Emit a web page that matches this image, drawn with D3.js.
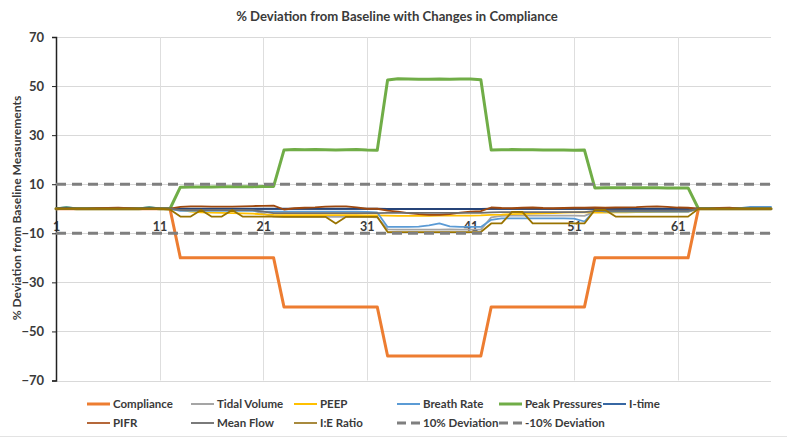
<!DOCTYPE html>
<html><head><meta charset="utf-8">
<script src="https://cdn.jsdelivr.net/npm/d3@7"></script>
<style>
body{margin:0;background:#fff}
svg{display:block}
text{font-family:Lato,"Open Sans",sans-serif;font-weight:700;fill:#3a3a3a}
</style>
</head><body>
<svg id="c" width="787" height="437"></svg>
<script>
const categories = d3.range(1, 71);
const xTickLabels = [1, 11, 21, 31, 41, 51, 61];
const yTickLabels = [-70, -50, -30, -10, 10, 30, 50, 70];
const thresholds = [10, -10];

const compliance = [
 0,0,0,0,0,0,0,0,0,0,
 0,0,-20,-20,-20,-20,-20,-20,-20,-20,
 -20,-20,-40,-40,-40,-40,-40,-40,-40,-40,
 -40,-40,-60,-60,-60,-60,-60,-60,-60,-60,
 -60,-60,-40,-40,-40,-40,-40,-40,-40,-40,
 -40,-40,-20,-20,-20,-20,-20,-20,-20,-20,
 -20,-20,0,0,0,0,0,0,0,0];
const tidalVolume = [
 0,0,0,0,0,0,0,0,0,0,
 0,0,-0.3,-0.5,-0.5,-0.5,-0.6,-0.6,-0.6,-0.7,
 -2.0,-3.2,-3.3,-3.3,-3.3,-3.3,-3.3,-3.3,-3.3,-3.3,
 -3.3,-3.5,-8.4,-8.5,-8.5,-8.5,-8.5,-8.5,-8.4,-8.5,
 -8.5,-8.5,-3.5,-2.9,-2.8,-2.8,-2.8,-2.8,-2.8,-2.8,
 -2.8,-2.9,-1.2,-1.2,-1.2,-1.2,-1.2,-1.2,-1.2,-1.2,
 -1.2,-1.2,0,0,0,0,0,0,0,0];
const peep = [
 0,0,0,0,0,0,0,0,0,0,
 0,0,-0.5,-1.2,-1.5,-1.6,-1.7,-1.8,-1.9,-2.0,
 -2.3,-2.5,-2.6,-2.6,-2.6,-2.6,-2.6,-2.6,-2.6,-2.6,
 -2.7,-2.7,-2.8,-2.9,-2.9,-2.9,-2.9,-2.8,-2.8,-2.8,
 -2.8,-2.7,-2.5,-2.4,-2.2,-2.1,-2.0,-1.9,-1.8,-1.6,
 -1.5,-1.4,-1.6,-1.6,-1.5,-1.5,-1.4,-1.4,-1.3,-1.3,
 -1.2,-1.2,0,0,0,0,0,0,0,0];
const breathRate = [
 0,0.8,0,0,0,0,0,0,0,0.8,
 0,0,-0.9,-0.9,-0.9,-0.9,-0.9,-0.9,-0.9,-0.9,
 -1.1,-1.2,-1.2,-1.2,-1.2,-1.2,-1.2,-1.2,-1.2,-1.2,
 -1.3,-1.5,-7.4,-7.4,-7.4,-7.3,-6.8,-6.0,-7.2,-7.4,
 -7.4,-7.4,-4.5,-3.9,-3.9,-3.9,-3.9,-3.9,-3.9,-3.9,
 -4.0,-5.2,-0.5,-1.2,-1.2,-1.2,-1.2,-1.2,-1.2,-1.2,
 -1.2,-1.2,0,0.2,0,0,0.2,0.8,0.8,0.8];
const peakPressures = [
 0,0.3,0,0,0,0,0,0,0,0.3,
 0,0,8.8,8.9,8.9,8.9,9.0,9.0,9.0,9.0,
 9.1,9.1,23.9,24.1,24.0,24.1,24.0,23.9,24.0,24.1,
 23.9,23.8,52.5,53.0,52.9,52.8,52.8,52.9,52.8,52.9,
 52.9,52.6,23.9,24.0,24.1,24.0,24.0,23.9,23.9,23.9,
 23.8,23.9,8.5,8.6,8.6,8.6,8.6,8.6,8.6,8.5,
 8.5,8.5,0,0,0,0,0,0,0,0];
const iTime = [
 0,0.2,0,0,0,0,0,0,0,0.2,
 0,0,0,0,0,0,0,0,0,0,
 0,0,0,0,0,0,0,0,0,0,
 0,0,-0.1,-0.1,-0.1,-0.1,-0.1,-0.1,-0.1,-0.1,
 -0.1,-0.1,0,0,0,0,0,0,0,0,
 0,0,0,0,0,0,0,0,0,0,
 0,0,0,0,0,0,0,0,0,0];
const pifr = [
 0,0,0,0,0.2,0.3,0.4,0.2,0,0,
 0,0,0.8,1.0,1.0,0.9,0.9,0.9,1.0,1.1,
 1.2,1.3,-0.3,0.2,0.4,0.6,0.9,1.0,1.0,0.6,
 0,0,-0.8,-1.2,-1.8,-2.2,-2.5,-2.5,-2.2,-1.6,
 -1.2,-1.0,0.5,0.3,0.2,0.4,0.5,0.3,0.2,0.3,
 0.4,0.4,0.5,0.4,0.5,0.6,0.7,0.9,1.0,0.8,
 0.5,0.4,0,0,0.3,0.4,0,0,0,0];
const meanFlow = [
 0,0,0,0,0,0,0,0,0,0,
 0,0,-0.5,-0.5,-0.5,-0.5,-0.5,-0.5,-0.5,-0.6,
 -1.2,-1.8,-1.8,-1.8,-1.8,-1.8,-1.8,-1.8,-1.8,-1.8,
 -1.8,-1.8,-1.7,-1.7,-1.7,-1.7,-1.7,-1.7,-1.7,-1.7,
 -1.7,-1.7,-1.5,-1.4,-1.4,-1.4,-1.4,-1.4,-1.4,-1.4,
 -1.4,-1.4,-0.9,-0.9,-0.9,-0.9,-0.9,-0.9,-0.9,-0.9,
 -0.9,-0.9,0,0,0,0,0,0,0,0];
const ieRatio = [
 0,0,0,0,0,0,0,0,0,0,
 0,-0.3,-3.2,-3.2,-0.5,-3.2,-3.2,-0.5,-3.2,-3.2,
 -3.2,-3.2,-3.3,-3.3,-3.3,-3.3,-3.3,-6.0,-3.3,-3.3,
 -3.3,-3.3,-9.5,-9.5,-9.5,-9.5,-9.5,-9.5,-9.5,-9.5,
 -9.5,-9.5,-6.0,-6.0,-1.3,-1.3,-6.0,-6.0,-6.0,-6.0,
 -6.0,-6.0,-0.5,-0.5,-3.2,-3.2,-3.2,-3.2,-3.2,-3.2,
 -3.2,-3.2,0,0,0,0,0,0,0,0];

const seriesNames = ["Compliance","Tidal Volume","PEEP","Breath Rate","Peak Pressures","I-time","PIFR","Mean Flow","I:E Ratio"];
const seriesValues = [compliance, tidalVolume, peep, breathRate, peakPressures, iTime, pifr, meanFlow, ieRatio];
const seriesColors = ["#ED7D31","#A5A5A5","#FFC000","#5B9BD5","#70AD47","#264478","#9E480E","#6f6f6f","#997300"];
const seriesWidths = [3,1.8,1.8,1.8,3,1.8,1.8,1.8,1.8];
const thresholdNames = ["10% Deviation","-10% Deviation"];

const svg = d3.select("#c");
const L = 56, R = 771, T = 37, B = 380.5;
const x = d3.scaleLinear().domain([1, 70]).range([L, R]);
const y = d3.scaleLinear().domain([-70, 70]).range([B, T]);

function fit(sel, w){ const n = sel.node(); const fs = parseFloat(sel.style("font-size")); const m = n.getComputedTextLength(); sel.style("font-size", (fs * w / m) + "px"); }

svg.append("line").attr("x1",0).attr("x2",787).attr("y1",436.5).attr("y2",436.5).attr("stroke","#e3e3e3");

const g = svg.append("g");
g.selectAll(".hg").data(yTickLabels).join("line")
  .attr("x1", L).attr("x2", R).attr("y1", d=>Math.round(y(d))+0.5).attr("y2", d=>Math.round(y(d))+0.5)
  .attr("stroke","#d9d9d9").attr("stroke-width",1);
g.selectAll(".vg").data(xTickLabels.slice(1)).join("line")
  .attr("x1", d=>Math.round(x(d))+0.5).attr("x2", d=>Math.round(x(d))+0.5).attr("y1", T).attr("y2", B)
  .attr("stroke","#dedede").attr("stroke-width",1);

const xa = svg.append("g").attr("transform",`translate(0,${y(0)})`)
  .call(d3.axisBottom(x).tickValues(xTickLabels).tickSize(0).tickPadding(13).tickFormat(d3.format("d")));
xa.select(".domain").attr("stroke","#595959").attr("stroke-width",1);
xa.selectAll("text").style("font-size","12.5px").style("font-family","Lato").attr("fill","#222");

const ya = svg.append("g").attr("transform",`translate(${L},0)`)
  .call(d3.axisLeft(y).tickValues(yTickLabels).tickSize(4).tickPadding(8));
ya.select(".domain").attr("stroke","#222").attr("stroke-width",1.5);
ya.selectAll("line").attr("stroke","#222");
ya.selectAll("text").style("font-size","13px").style("font-family","Lato").attr("fill","#222");

const line = d3.line().x((d,i)=>x(categories[i])).y(d=>y(d));
seriesValues.forEach((vals,k)=>{
  svg.append("path").datum(vals).attr("d", line)
    .attr("fill","none").attr("stroke", seriesColors[k]).attr("stroke-width", seriesWidths[k])
    .attr("stroke-linejoin","round").attr("stroke-linecap","round");
});
thresholds.forEach(t=>{
  svg.append("path").datum(categories.map(()=>t)).attr("d", line)
    .attr("fill","none").attr("stroke","#7f7f7f").attr("stroke-width",3).attr("stroke-dasharray","10,6");
});

const title = svg.append("text").attr("x",397).attr("y",21).attr("text-anchor","middle")
  .style("font-size","14px").text("% Deviation from Baseline with Changes in Compliance");
fit(title, 322);

const yt = svg.append("text").attr("transform","translate(21,208) rotate(-90)").attr("text-anchor","middle")
  .style("font-size","12px").text("% Deviation from Baseline Measurements");
fit(yt, 225);

const colX = [87, 191, 294, 397, 499, 603];
const rowY = [404, 423];
const legendItems = [
  {name:seriesNames[0], color:seriesColors[0], w:3, c:0, r:0},
  {name:seriesNames[1], color:seriesColors[1], w:2, c:1, r:0},
  {name:seriesNames[2], color:seriesColors[2], w:2, c:2, r:0},
  {name:seriesNames[3], color:seriesColors[3], w:2, c:3, r:0},
  {name:seriesNames[4], color:seriesColors[4], w:3, c:4, r:0},
  {name:seriesNames[5], color:"#3767a3", w:2, c:5, r:0},
  {name:seriesNames[6], color:"#b5683a", w:2, c:0, r:1},
  {name:seriesNames[7], color:"#7a7a7a", w:2, c:1, r:1},
  {name:seriesNames[8], color:"#a88a3e", w:2, c:2, r:1},
  {name:thresholdNames[0], color:"#7f7f7f", w:3, c:3, r:1, dash:true},
  {name:thresholdNames[1], color:"#7f7f7f", w:3, c:4, r:1, dash:true}
];
const lg = svg.append("g");
legendItems.forEach(it=>{
  const x0 = colX[it.c], yy = rowY[it.r];
  lg.append("line").attr("x1",x0).attr("x2",x0+23).attr("y1",yy).attr("y2",yy)
    .attr("stroke",it.color).attr("stroke-width",it.w).attr("stroke-dasharray", it.dash? "9,5":null);
  lg.append("text").attr("x",x0+26).attr("y",yy+4).style("font-size","11.5px").text(it.name);
});
</script>
</body></html>
